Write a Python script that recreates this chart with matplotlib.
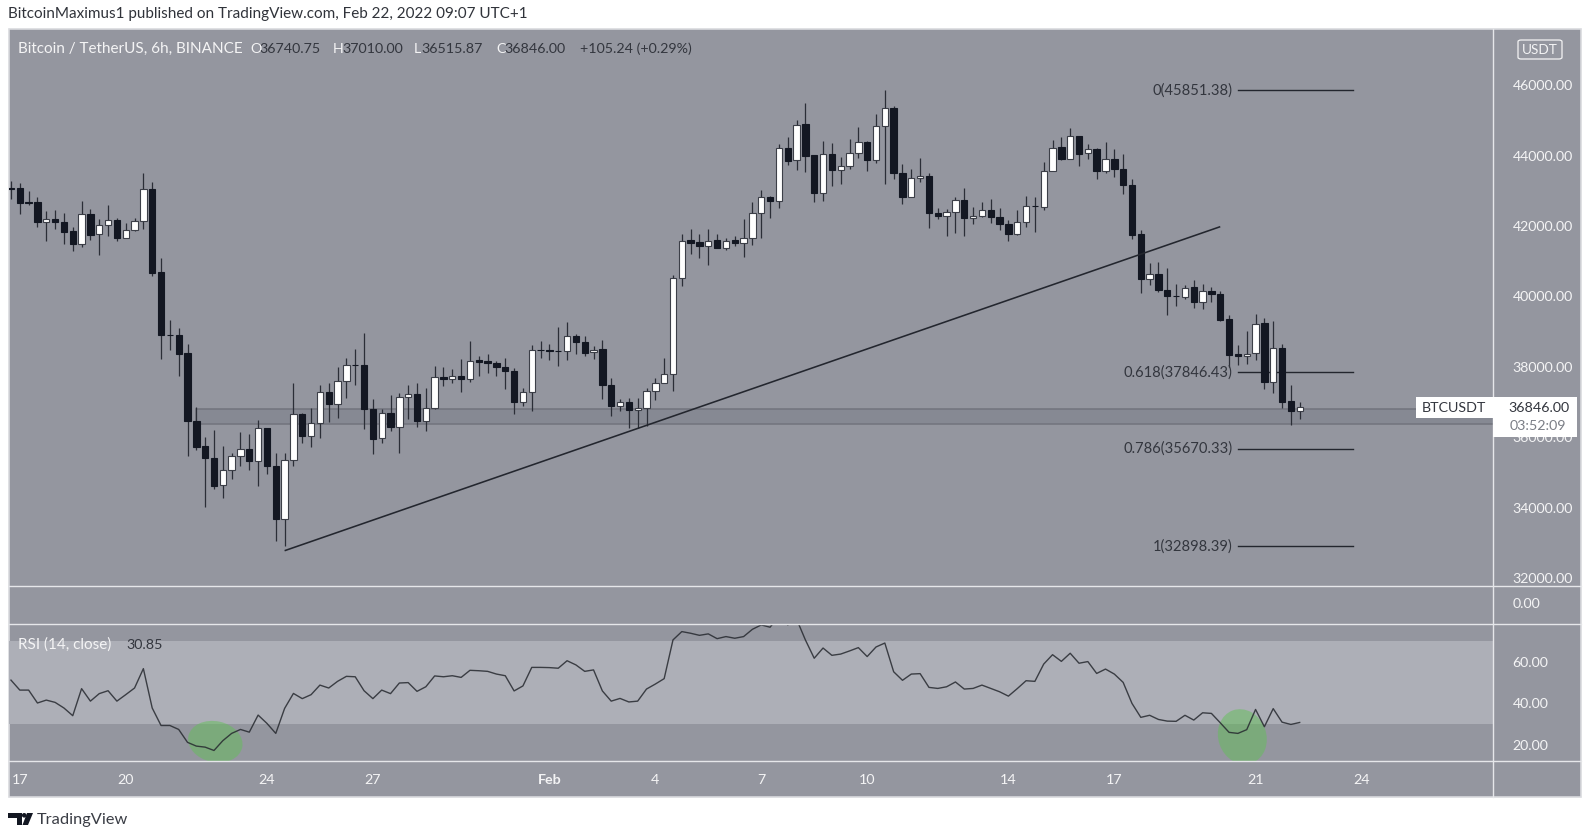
import matplotlib
matplotlib.use('Agg')
import matplotlib.pyplot as plt
from matplotlib.patches import Rectangle, Ellipse, Polygon, FancyBboxPatch
from matplotlib.lines import Line2D

W, H = 1591, 836
FONT = 'Lato'
plt.rcParams['font.family'] = [FONT, 'DejaVu Sans']

# 6h candles, Jan 16 18:00 -> Feb 22 06:00
opens = [43075, 43079, 42670, 42672, 42113, 42199, 42113, 41848, 41498, 42350,
         41763, 42019, 42170, 41668, 41877, 42142, 43051, 40684, 38915, 38913,
         38392, 36460, 35740, 35409, 34632, 35058, 35475, 35674, 35314, 36261,
         35181, 33685, 35352, 36668, 36043, 36394, 37274, 36952, 37596, 38055,
         38041, 36810, 35967, 36697, 36280, 37152, 37227, 36460, 36839, 37710,
         37654, 37748, 37654, 38184, 38156, 38118, 38004, 37890, 37010, 37275,
         38470, 38477, 38442, 38440, 38885, 38705, 38411, 38506, 37483, 36896,
         36991, 36782, 36839, 37303, 37540, 37805, 40514, 41593, 41536, 41442,
         41593, 41375, 41593, 41527, 41650, 42379, 42824, 42720, 44216, 43866,
         44888, 44017, 42947, 44036, 43591, 43714, 44065, 44396, 43885, 44851,
         45353, 43515, 42834, 43354, 43430, 42379, 42275, 42398, 42729, 42218,
         42275, 42464, 42265, 42057, 41782, 42104, 42570, 42549, 43572, 44235,
         43913, 44567, 44065, 44188, 43572, 43894, 43629, 43165, 41763, 40504,
         40627, 40191, 40005, 39973, 40258, 39831, 40163, 40078, 39358, 38354,
         38297, 38382, 39235, 37568, 38534, 37019, 36740.75]
closes = [43065, 42663, 42660, 42113, 42199, 42113, 41839, 41498, 42350, 41754,
          42019, 42170, 41668, 41877, 42142, 43042, 40674, 38903, 38905, 38373,
          36460, 35731, 35409, 34623, 35058, 35475, 35674, 35314, 36252, 35172,
          33685, 35352, 36659, 36043, 36394, 37274, 36952, 37596, 38060, 38045,
          36801, 35958, 36697, 36280, 37152, 37218, 36460, 36839, 37710, 37654,
          37739, 37654, 38175, 38146, 38118, 38004, 37890, 37010, 37275, 38468,
          38465, 38440, 38436, 38885, 38705, 38402, 38487, 37474, 36887, 36991,
          36773, 36839, 37303, 37540, 37805, 40514, 41584, 41527, 41442, 41584,
          41375, 41584, 41517, 41650, 42379, 42815, 42720, 44207, 43847, 44879,
          43998, 42947, 44036, 43591, 43714, 44065, 44387, 43875, 44851, 45343,
          43506, 42824, 43373, 43430, 42369, 42275, 42398, 42729, 42227, 42294,
          42464, 42256, 42047, 41782, 42114, 42578, 42565, 43572, 44226, 43904,
          44557, 44055, 44178, 43563, 43894, 43620, 43155, 41754, 40504, 40627,
          40182, 40011, 40000, 40248, 39831, 40163, 40068, 39329, 38345, 38297,
          38373, 39225, 37568, 38525, 37009, 36740, 36846.00]
highs = [43288, 43212, 42985, 42814, 42417, 42445, 42360, 41981, 42701, 42492,
         42189, 42587, 42218, 42085, 42237, 43515, 43250, 41100, 39329, 39093,
         38657, 36848, 35996, 36204, 35740, 35560, 36148, 36091, 36498, 36261,
         35560, 35541, 37549, 36697, 36820, 37492, 37549, 37985, 38240, 38505,
         38950, 37075, 36791, 37198, 37246, 37483, 37531, 37407, 38023, 37985,
         37928, 38222, 38743, 38307, 38364, 38175, 38241, 37957, 37407, 38629,
         38743, 38648, 39121, 39273, 38923, 38875, 38591, 38771, 37691, 37085,
         37104, 37104, 37389, 37691, 38241, 40599, 41773, 41915, 41773, 41915,
         41773, 41650, 41716, 42190, 42682, 43023, 42852, 44330, 44519, 45012,
         45504, 44017, 44424, 44368, 43951, 44481, 44813, 44424, 45182, 45851,
         45409, 43762, 43620, 43923, 43515, 42511, 42474, 42815, 43089, 42530,
         42682, 42758, 42502, 42171, 42445, 42852, 42824, 43809, 44453, 44519,
         44775, 44567, 44330, 44207, 44396, 44188, 44046, 43345, 41877, 40958,
         40987, 40807, 40352, 40324, 40456, 40352, 40258, 40144, 39462, 38629,
         39008, 39491, 39377, 39301, 38657, 37483, 37010.00]
lows = [42776, 42331, 42596, 41981, 41583, 41905, 41498, 41290, 41403, 41612,
        41176, 41725, 41583, 41668, 41858, 41924, 40589, 38221, 38477, 37729,
        35456, 35636, 34026, 34528, 34263, 34812, 35181, 35077, 34613, 34954,
        33041, 32898, 35191, 35835, 35721, 35977, 36441, 36555, 37123, 37492,
        36233, 35513, 35835, 36185, 35560, 36508, 36299, 36186, 36792, 37464,
        37550, 37294, 37578, 37748, 37815, 37729, 37370, 36659, 36887, 36735,
        38260, 38193, 38023, 38193, 38373, 38317, 38231, 37085, 36593, 36735,
        36271, 36271, 36318, 37057, 37531, 37313, 40296, 41195, 41101, 40883,
        41375, 41328, 41432, 41129, 41460, 41659, 42237, 42502, 43733, 43582,
        43544, 42682, 42710, 43146, 43203, 43610, 43932, 43553, 43781, 43203,
        43345, 42625, 42824, 43260, 41943, 42190, 41726, 41801, 41726, 42066,
        42246, 42095, 41896, 41574, 41754, 41981, 41839, 42445, 43572, 43875,
        43904, 43705, 43904, 43326, 43515, 43383, 42909, 41640, 40087, 40324,
        40116, 39481, 39737, 39936, 39680, 39642, 39831, 39301, 38004, 38051,
        38079, 38193, 37379, 37246, 36829, 36356, 36515.87]

rsi = [51.2, 46.4, 46.4, 40.2, 41.6, 40.5, 37.8, 34.1, 47.1, 41.1,
       44.7, 46.1, 41.1, 44.2, 47.4, 56.7, 37.8, 29.4, 29.4, 27.5,
       21.3, 19.5, 19.0, 17.4, 22.1, 25.6, 27.5, 26.2, 34.4, 30.4,
       25.6, 37.6, 44.8, 42.3, 44.2, 48.8, 47.4, 50.6, 53.0, 52.8,
       46.1, 42.3, 46.4, 44.7, 49.8, 50.0, 45.8, 48.0, 53.2, 52.8,
       53.3, 52.5, 55.9, 55.7, 55.4, 54.1, 53.3, 46.0, 48.4, 57.3,
       57.3, 57.2, 56.9, 60.5, 58.5, 55.4, 56.1, 46.0, 41.1, 42.4,
       40.7, 41.1, 46.9, 49.3, 51.9, 70.5, 74.5, 73.7, 72.7, 73.4,
       71.1, 72.1, 71.3, 72.1, 75.6, 77.7, 76.6, 82.0, 77.7, 80.5,
       70.5, 61.7, 66.6, 63.1, 63.7, 65.2, 66.8, 62.5, 67.1, 69.0,
       55.2, 51.1, 54.1, 54.3, 47.7, 47.2, 48.0, 50.3, 46.9, 47.2,
       48.8, 47.2, 45.6, 43.5, 47.1, 50.9, 50.6, 58.9, 63.4, 60.2,
       64.1, 59.3, 60.1, 54.4, 56.5, 54.1, 50.1, 40.0, 33.3, 34.3,
       32.3, 31.5, 31.4, 34.3, 32.0, 35.5, 35.2, 30.7, 26.1, 25.6,
       27.4, 37.1, 28.8, 37.5, 31.0, 29.9, 30.85]

price_ticks = [32000, 34000, 36000, 38000, 40000, 42000, 44000, 46000]
rsi_ticks = [20, 40, 60]
date_idx = [1, 13, 29, 41, 61, 73, 85, 97, 113, 125, 141, 153]
date_labels = ['17', '20', '24', '27', 'Feb', '4', '7', '10', '14', '17', '21', '24']

fib_levels = ['0', '0.618', '0.786', '1']
fib_prices = [45851.38, 37846.43, 35670.33, 32898.39]
fib_start, fib_end = 139, 152

trend_x = [31, 137]
trend_y = [32776, 41981]
zone_top, zone_bottom, zone_start = 36793, 36366, 21

BG = '#94969f'
BAND = '#adafb7'
TXT = '#f4f4f5'
DARK = '#131722'
SOFT = '#33363e'

# pixel layout
L, R, AX_R = 8.5, 1581, 1493
T, B = 29, 796.5
MAIN_B, RSI_T, RSI_B = 585.5, 624.3, 761.3


def px_axes(x0, y0, x1, y1):
    return [x0 / W, 1 - y1 / H, (x1 - x0) / W, (y1 - y0) / H]


def fx(x):
    return x / W


def fy(y):
    return 1 - y / H


def ptext(x, y, s, **kw):
    kw.setdefault('fontsize', 10.3)
    kw.setdefault('va', 'center')
    return fig.text(fx(x), fy(y), s, **kw)


def frect(x0, y0, x1, y1, **kw):
    r = Rectangle((fx(x0), fy(y1)), fx(x1 - x0), (y1 - y0) / H, transform=fig.transFigure, **kw)
    fig.add_artist(r)


def fline(x0, y0, x1, y1, color='#e6e7ea', lw=1.0, zorder=5):
    fig.add_artist(Line2D([fx(x0), fx(x1)], [fy(y0), fy(y1)], color=color, lw=lw, zorder=zorder))


fig = plt.figure(figsize=(W / 100, H / 100), dpi=100, facecolor='white')
frect(L, T, R, B, facecolor=BG, edgecolor='#d9dade', lw=1.2, zorder=0)

# price pane
ax = fig.add_axes(px_axes(L, T, AX_R, MAIN_B))
ax.patch.set_alpha(0)
ax.set_xlim(-0.28, 167.9)
ax.set_ylim(31787, 47597)

ax.add_patch(Rectangle((zone_start, zone_bottom), 200, zone_top - zone_bottom, facecolor='#868993',
                       edgecolor='#72747d', lw=1.1, zorder=1))

xs = list(range(len(opens)))
ax.vlines(xs, lows, highs, color='#2b2e37', lw=0.9, zorder=2)
for i in xs:
    up = closes[i] >= opens[i]
    ax.bar(i, abs(closes[i] - opens[i]), bottom=min(opens[i], closes[i]), width=0.72,
           facecolor='white' if up else DARK, edgecolor='#3c3f48' if up else DARK, lw=0.8, zorder=3)

ax.plot(trend_x, trend_y, color='#23262e', lw=1.15, zorder=4, solid_capstyle='butt')

for lev, p in zip(fib_levels, fib_prices):
    ax.plot([fib_start, fib_end], [p, p], color='#23262e', lw=1.0, zorder=2.5)
    ax.text(fib_start - 0.6, p, f'{lev}({p:.2f})', ha='right', va='center', fontsize=10.6, color=SOFT, zorder=5)

ax.set_yticks(price_ticks)
ax.set_yticklabels([f'{p:.2f}' for p in price_ticks])
ax.yaxis.tick_right()
ax.tick_params(axis='y', length=0, pad=14, labelsize=10.2, labelcolor=TXT)
ax.set_xticks([])
for s in ax.spines.values():
    s.set_visible(False)

# empty volume pane
vol = fig.add_axes(px_axes(L, MAIN_B, AX_R, RSI_T))
vol.patch.set_alpha(0)
vol.set_xlim(0, 1)
vol.set_ylim(-1.1, 0.9)
vol.set_yticks([0])
vol.set_yticklabels(['0.00'])
vol.yaxis.tick_right()
vol.tick_params(axis='y', length=0, pad=14, labelsize=10.2, labelcolor=TXT)
vol.set_xticks([])
for s in vol.spines.values():
    s.set_visible(False)

# RSI pane
ax2 = fig.add_axes(px_axes(L, RSI_T, AX_R, RSI_B))
ax2.patch.set_alpha(0)
ax2.set_xlim(ax.get_xlim())
ax2.set_ylim(12.2, 78)
ax2.axhspan(30, 70, color=BAND, lw=0, zorder=1)

# green highlights, tilted in screen space
for idx, val, w, h, ang in [(23.15, 21.6, 55, 41, -12), (139.5, 24, 48, 56, 20)]:
    cx, cy = ax2.transData.transform((idx, val))
    e = Ellipse((cx, cy), w, h, angle=ang, transform=None, facecolor=(0.39, 0.75, 0.35), alpha=0.5, lw=0, zorder=2)
    ax2.add_artist(e)
    e.set_clip_path(ax2.patch)

ax2.plot(xs, rsi, color='#26292f', lw=1.0, zorder=3, alpha=0.85)

ax2.set_yticks(rsi_ticks)
ax2.set_yticklabels([f'{v:.2f}' for v in rsi_ticks])
ax2.yaxis.tick_right()
ax2.tick_params(axis='y', length=0, pad=14, labelsize=10.2, labelcolor=TXT)
ax2.set_xticks(date_idx)
ax2.set_xticklabels(date_labels)
ax2.tick_params(axis='x', length=0, pad=9, labelsize=10.3, labelcolor=TXT)
for t in ax2.get_xticklabels():
    if t.get_text() == 'Feb':
        t.set_fontweight('bold')
for s in ax2.spines.values():
    s.set_visible(False)

# pane separators
fline(L, MAIN_B, R, MAIN_B)
fline(L, RSI_T, R, RSI_T)
fline(L, RSI_B, R, RSI_B)
fline(AX_R, T, AX_R, B)

# last price tag
frect(1415.7, 396.7, AX_R, 418, facecolor='white', edgecolor='none', zorder=6)
frect(AX_R, 396.7, 1576.7, 436.7, facecolor='white', edgecolor='none', zorder=6)
ptext(1422, 408.5, 'BTCUSDT', color=SOFT, zorder=7)
ptext(1570, 408.5, '36846.00', color=SOFT, ha='right', zorder=7)
ptext(1566, 426.5, '03:52:09', color='#7b7e86', ha='right', zorder=7)

# currency button
fig.add_artist(FancyBboxPatch((fx(1518), fy(59)), fx(44), 19 / H, boxstyle='round,pad=0,rounding_size=0.002',
                              transform=fig.transFigure, facecolor='none', edgecolor=TXT, lw=0.9))
ptext(1540, 49.5, 'USDT', color=TXT, ha='center', fontsize=9.8)

# header texts
ptext(8, 14, 'BitcoinMaximus1 published on TradingView.com, Feb 22, 2022 09:07 UTC+1', color='#30333a', fontsize=11)
ptext(18, 49, 'Bitcoin / TetherUS, 6h, BINANCE', color=TXT, fontsize=11)
for x, tag, val in [(250, 'O', '36740.75'), (333, 'H', '37010.00'), (414, 'L', '36515.87'), (496, 'C', '36846.00')]:
    ptext(x, 49, tag, color=TXT)
    ptext(x + {'O': 9, 'H': 9, 'L': 7, 'C': 8}[tag], 49, val, color=SOFT)
ptext(580, 49, '+105.24 (+0.29%)', color=SOFT)
ptext(18, 645, 'RSI (14, close)', color=TXT, fontsize=11)
ptext(126, 645, '30.85', color=SOFT)

# footer logo
for pts in [[(8, 813), (22, 813), (22, 825), (17, 825), (17, 818), (8, 818)],
            [(27, 813), (33, 813), (28, 825), (22.5, 825)]]:
    fig.add_artist(Polygon([(fx(a), fy(b)) for a, b in pts], closed=True, transform=fig.transFigure,
                           facecolor='#131722', edgecolor='none'))
fig.add_artist(Ellipse((fx(24.2), fy(815.3)), 4.6 / W, 4.6 / H, transform=fig.transFigure, facecolor='#131722', edgecolor='none'))
ptext(37, 820, 'TradingView', color='#3a3d45', fontsize=11.8)

fig.savefig('out.png', dpi=100)
